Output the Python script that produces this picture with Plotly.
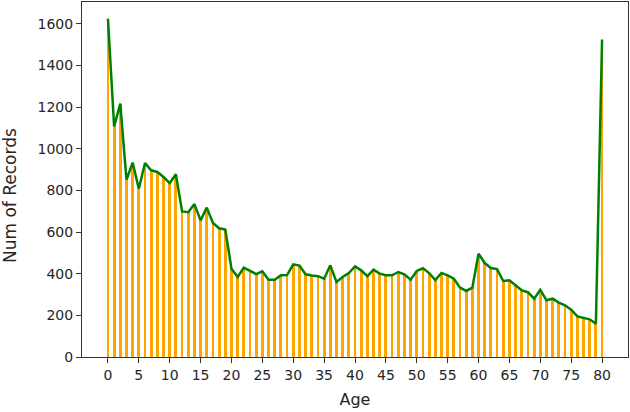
import plotly.graph_objects as go

# Records per age
ages = list(range(0, 81))
num_records = [
    1624, 1107, 1216, 851, 933, 808, 931, 896, 888, 864,
    835, 877, 699, 695, 734, 656, 717, 643, 618, 612,
    424, 384, 429, 414, 398, 411, 371, 371, 392, 393,
    445, 439, 397, 391, 388, 376, 440, 360, 384, 403,
    435, 416, 388, 419, 400, 392, 392, 408, 397, 371,
    413, 426, 403, 369, 403, 392, 376, 333, 317, 333,
    496, 451, 427, 422, 365, 368, 344, 320, 311, 280,
    323, 272, 280, 261, 248, 227, 195, 189, 181, 160,
    1524,
]
x_ticks = list(range(0, 81, 5))
y_ticks = list(range(0, 1601, 200))

FONT = "DejaVu Sans"
TEXT = "#262626"

fig = go.Figure()

fig.add_trace(go.Bar(
    x=ages,
    y=num_records,
    width=0.45,
    marker=dict(color="orange", line=dict(width=0)),
    showlegend=False,
))

fig.add_trace(go.Scatter(
    x=ages,
    y=num_records,
    mode="lines",
    line=dict(color="green", width=2.5),
    showlegend=False,
))

axis_common = dict(
    automargin=False,
    showline=True,
    mirror=True,
    linecolor="#333333",
    linewidth=1,
    ticks="outside",
    ticklen=5,
    tickwidth=1,
    tickcolor="#333333",
    showgrid=False,
    zeroline=False,
    tickfont=dict(family=FONT, size=14, color=TEXT),
)

fig.update_layout(
    width=630,
    height=412,
    paper_bgcolor="white",
    plot_bgcolor="white",
    margin=dict(l=82, r=2, t=2, b=55),
    bargap=0,
    font=dict(family=FONT, color=TEXT),
    xaxis=dict(
        axis_common,
        range=[-4.2, 84.2],
        tickvals=x_ticks,
        title=dict(text="Age", font=dict(family=FONT, size=16, color=TEXT), standoff=12),
    ),
    yaxis=dict(
        axis_common,
        range=[0, 1704],
        tickvals=y_ticks,
    ),
    # y label sits a bit below the axis centre in the reference, so place it by hand
    annotations=[
        dict(
            text="Num of Records",
            xref="paper",
            yref="paper",
            x=-0.132,
            y=0.456,
            xanchor="center",
            yanchor="middle",
            textangle=-90,
            showarrow=False,
            font=dict(family=FONT, size=17, color=TEXT),
        )
    ],
)

# page body has a default 8px margin; drop it so the figure sits at the window origin
fig.write_html(
    "out.html",
    config={"displayModeBar": False},
    post_script="document.body.style.margin='0';",
)
